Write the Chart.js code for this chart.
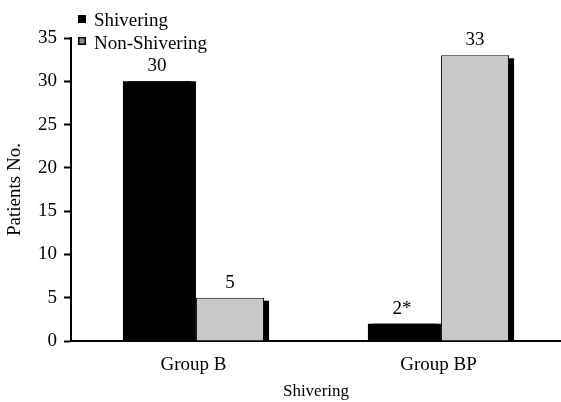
<!DOCTYPE html>
<html>
<head>
<meta charset="utf-8">
<script src="https://cdn.jsdelivr.net/npm/chart.js@4/dist/chart.umd.min.js"></script>
<style>
  html, body { margin: 0; padding: 0; background: #fff; }
  #wrap { width: 561px; height: 402px; }
</style>
</head>
<body>
<div id="wrap"><canvas id="c" width="561" height="402"></canvas></div>
<script>
const categories = ['Group B', 'Group BP'];
const shiveringValues = [30, 2];
const nonShiveringValues = [5, 33];
const shiveringLabels = ['30', '2*'];
const nonShiveringLabels = ['5', '33'];
const seriesNames = ['Shivering', 'Non-Shivering'];
const yTicks = [0, 5, 10, 15, 20, 25, 30, 35];
const xAxisTitle = 'Shivering';
const yAxisTitle = 'Patients No.';

const FONT = 'Liberation Serif, Times New Roman, serif';
Chart.defaults.font.family = FONT;
Chart.defaults.color = '#000';

const shadowPlugin = {
  id: 'shadow',
  beforeDatasetsDraw(chart) {
    const ctx = chart.ctx, a = chart.chartArea;
    ctx.save();
    ctx.beginPath();
    ctx.rect(a.left, a.top - 20, a.right - a.left, a.bottom - a.top + 20);
    ctx.clip();
    ctx.fillStyle = '#000';
    chart.data.datasets.forEach((ds, i) => {
      const dy = i === 0 ? 0 : 3;
      chart.getDatasetMeta(i).data.forEach(el => {
        const p = el.getProps(['x', 'y', 'base', 'width'], true);
        const left = p.x - p.width / 2;
        ctx.fillRect(left + 5, p.y + dy, p.width, p.base - p.y);
      });
    });
    ctx.restore();
  }
};

const labelPlugin = {
  id: 'valueLabels',
  afterDatasetsDraw(chart) {
    const ctx = chart.ctx;
    ctx.save();
    ctx.font = '19px ' + FONT;
    ctx.fillStyle = '#000';
    ctx.textAlign = 'center';
    ctx.textBaseline = 'alphabetic';
    chart.data.datasets.forEach((ds, i) => {
      chart.getDatasetMeta(i).data.forEach((el, j) => {
        const p = el.getProps(['x', 'y'], true);
        ctx.fillText(ds.valueLabels[j], p.x, p.y - 10);
      });
    });
    ctx.restore();
  }
};

const legendPlugin = {
  id: 'customLegend',
  afterDraw(chart) {
    const ctx = chart.ctx;
    ctx.save();
    ctx.font = '19px ' + FONT;
    ctx.textBaseline = 'alphabetic';
    ctx.textAlign = 'left';
    const rows = [{mark: 15, base: 26}, {mark: 37, base: 49}];
    chart.data.datasets.forEach((ds, i) => {
      const r = rows[i];
      ctx.fillStyle = '#000';
      ctx.fillRect(78, r.mark, 8, 8);
      if (i === 1) {
        ctx.fillStyle = '#909090';
        ctx.fillRect(79.5, r.mark + 1.5, 5, 5);
      }
      ctx.fillStyle = '#000';
      ctx.fillText(ds.label, 94, r.base);
    });
    ctx.restore();
  }
};

new Chart(document.getElementById('c'), {
  type: 'bar',
  data: {
    labels: categories,
    datasets: [
      {
        label: seriesNames[0],
        data: shiveringValues,
        valueLabels: shiveringLabels,
        backgroundColor: '#000000',
        borderWidth: 0,
        categoryPercentage: 0.597,
        barPercentage: 0.93
      },
      {
        label: seriesNames[1],
        data: nonShiveringValues,
        valueLabels: nonShiveringLabels,
        backgroundColor: '#c8c8c8',
        borderColor: '#000000',
        borderWidth: 1,
        categoryPercentage: 0.597,
        barPercentage: 0.93
      }
    ]
  },
  options: {
    responsive: false,
    animation: false,
    devicePixelRatio: 1,
    layout: { padding: { top: 38, right: -8, left: 0, bottom: 0 } },
    plugins: {
      legend: { display: false },
      tooltip: { enabled: false }
    },
    scales: {
      x: {
        offset: true,
        grid: { display: true, drawOnChartArea: false, drawTicks: false },
        border: { display: true, color: '#000', width: 2 },
        ticks: { font: { size: 19 }, padding: 13, color: '#000' },
        title: {
          display: true, text: xAxisTitle, color: '#000',
          font: { size: 17 }, padding: { top: 0, bottom: 0 }
        },
        afterFit(scale) { scale.height = 61; }
      },
      y: {
        min: 0,
        max: 35,
        afterBuildTicks(scale) { scale.ticks = yTicks.map(v => ({ value: v })); },
        grid: {
          display: true, drawOnChartArea: false, drawTicks: true,
          tickLength: 7, tickWidth: 2, tickColor: '#000'
        },
        border: { display: true, color: '#000', width: 2 },
        ticks: { font: { size: 19 }, padding: 7, color: '#000' },
        title: {
          display: true, text: yAxisTitle, color: '#000',
          font: { size: 19 }, padding: { top: 4, bottom: 0 }
        },
        afterFit(scale) { scale.width = 71; }
      }
    }
  },
  plugins: [shadowPlugin, labelPlugin, legendPlugin]
});
</script>
</body>
</html>
